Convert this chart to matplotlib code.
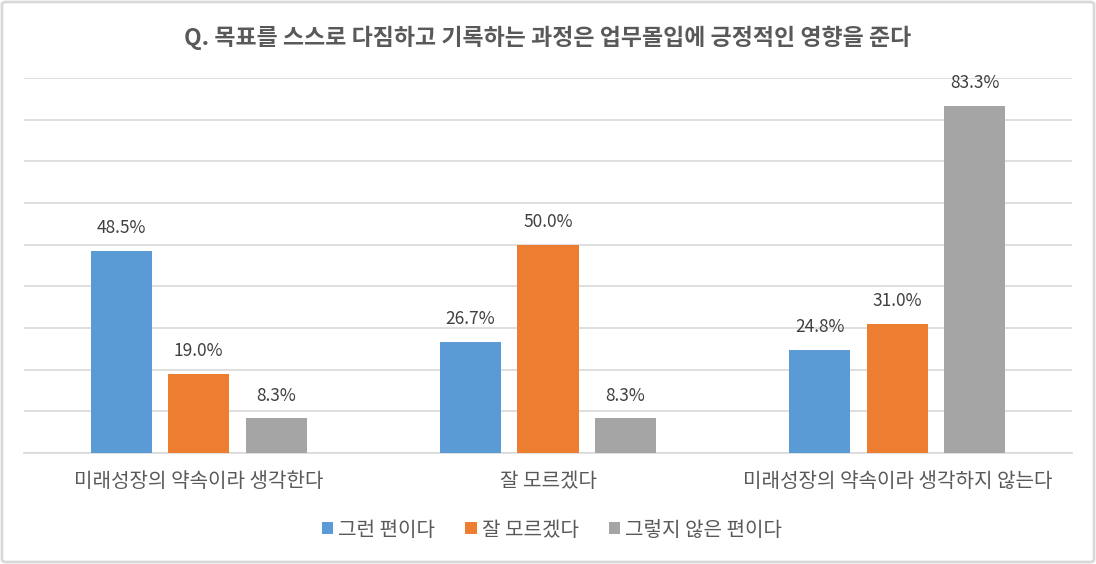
import matplotlib
matplotlib.use("Agg")
import matplotlib.pyplot as plt
from matplotlib.patches import FancyBboxPatch
import numpy as np

plt.rcParams['font.family'] = ['Noto Sans CJK KR', 'DejaVu Sans']

title = "Q. 목표를 스스로 다짐하고 기록하는 과정은 업무몰입에 긍정적인 영향을 준다"
categories = ["미래성장의 약속이라 생각한다", "잘 모르겠다", "미래성장의 약속이라 생각하지 않는다"]
series_names = ["그런 편이다", "잘 모르겠다", "그렇지 않은 편이다"]
values_agree = [48.5, 26.7, 24.8]
values_unsure = [19.0, 50.0, 31.0]
values_disagree = [8.3, 8.3, 83.3]
colors = ["#5b9bd5", "#ed7d31", "#a5a5a5"]

W, H = 1096, 564
fig = plt.figure(figsize=(W / 100, H / 100), dpi=100)

border = FancyBboxPatch((2 / W, 2 / H), 1 - 4 / W, 1 - 4 / H,
                        boxstyle="round,pad=0,rounding_size=0.004",
                        transform=fig.transFigure, facecolor="none",
                        edgecolor="#d9d9d9", linewidth=2, zorder=-1)
fig.patches.append(border)

ax = fig.add_axes([24 / W, (H - 453) / H, (1072 - 24) / W, (453 - 78) / H])
ax.set_xlim(-0.5, 2.5)
ax.set_ylim(0, 90)
ax.set_yticks(np.arange(0, 91, 10))
ax.yaxis.grid(True, color="#d9d9d9", linewidth=1.2)
ax.set_axisbelow(True)
ax.tick_params(axis="y", left=False, labelleft=False)
ax.tick_params(axis="x", bottom=False, length=0, pad=13)
for s in ["top", "right", "left"]:
    ax.spines[s].set_visible(False)
ax.spines["bottom"].set_color("#d9d9d9")
ax.spines["bottom"].set_linewidth(1.2)
ax.patch.set_alpha(0)

x = np.arange(len(categories))
bw = 0.175
off = 0.222
all_vals = [values_agree, values_unsure, values_disagree]
handles = []
for i, (vals, c, name) in enumerate(zip(all_vals, colors, series_names)):
    bars = ax.bar(x + (i - 1) * off, vals, bw, color=c, label=name, zorder=3)
    handles.append(bars)
    for xi, v in zip(x + (i - 1) * off, vals):
        ax.text(xi, v + 3.3, f"{v:.1f}%", ha="center", va="bottom",
                fontsize=12.5, color="#404040")

ax.set_xticks(x)
ax.set_xticklabels(categories, fontsize=14.5, color="#595959")

fig.text(548 / W, 1 - 38 / H, title, ha="center", va="center",
         fontsize=16.5, fontweight="bold", color="#595959")

leg = fig.legend(handles=handles, labels=series_names, loc="center",
                 bbox_to_anchor=(552 / W, 1 - 530 / H), ncol=3, frameon=False,
                 fontsize=14.5, handlelength=0.55, handleheight=0.55,
                 handletextpad=0.25, columnspacing=1.5, labelcolor="#595959")

fig.savefig("out.png", dpi=100)
